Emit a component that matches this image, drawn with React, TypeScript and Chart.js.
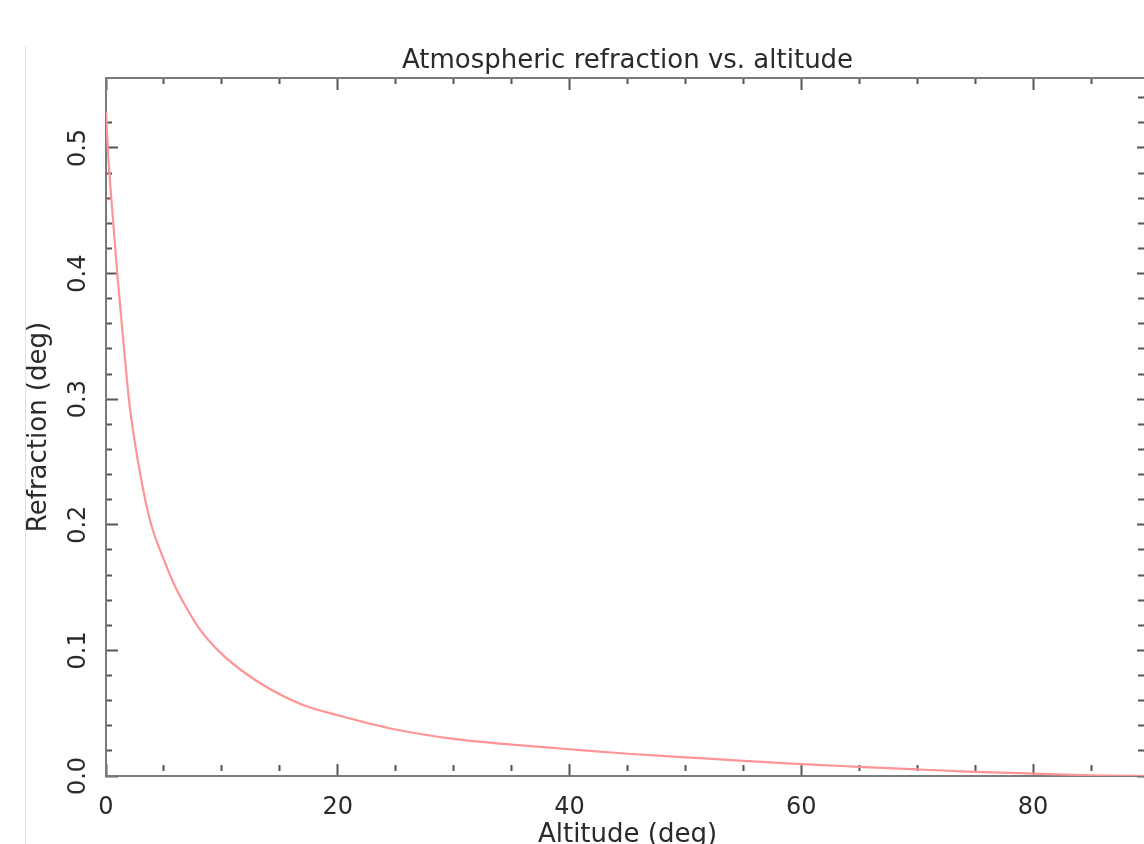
import React, { useEffect, useRef } from "react";
import { Chart, registerables } from "chart.js";

Chart.register(...registerables);

// Data
const altitude = [0, 0.15, 0.5, 1.0, 1.5, 2.0, 2.5, 3.0, 3.5, 4.0, 5.0, 6.0, 7.0, 8.0, 10, 12, 14, 17, 20, 25, 30, 35, 40, 45, 50, 55, 60, 65, 70, 75, 80, 85, 90];
const refraction = [0.529, 0.5, 0.455, 0.397, 0.346, 0.298, 0.265, 0.238, 0.215, 0.197, 0.172, 0.15, 0.133, 0.118, 0.097, 0.082, 0.07, 0.0565, 0.0484, 0.037, 0.0295, 0.025, 0.0213, 0.0177, 0.0149, 0.0121, 0.0095, 0.0073, 0.0052, 0.0033, 0.0019, 0.0006, 0.0];

const titleText = "Atmospheric refraction vs. altitude";
const xTitle = "Altitude (deg)";
const yTitle = "Refraction (deg)";
const xMin = 0;
const xMax = 90;
const xMinorStep = 5;
const xMajorStep = 20;
const yMin = 0;
const yMax = 0.5557;
const yMinorStep = 0.02;
const yMajorStep = 0.1;

const W = 1160;
const H = 870;
const AREA_LEFT = 106;
const AREA_TOP = 78;
const AREA_RIGHT = 1149;
const AREA_BOTTOM = 776;

const FONT = "'DejaVu Sans', Verdana, sans-serif";
const AXIS_COLOR = "#7a7a7a";
const TICK_COLOR = "#555555";
const TEXT_COLOR = "#2a2a2a";
const MINOR_DASH = [0, 6, 6, 0];

const isMultiple = (v: number, step: number) => Math.abs(v / step - Math.round(v / step)) < 1e-6;

const fixBox = (w: number | null, h: number | null) => (s: any) => {
  if (w !== null) s.width = w;
  if (h !== null) s.height = h;
  s.paddingLeft = 0;
  s.paddingRight = 0;
  s.paddingTop = 0;
  s.paddingBottom = 0;
};

export default function App() {
  const canvasRef = useRef<HTMLCanvasElement | null>(null);

  useEffect(() => {
    if (!canvasRef.current) return;
    const points = altitude.map((a, i) => ({ x: a, y: refraction[i] }));

    const xMajor = (c: any) => c.tick && isMultiple(c.tick.value, xMajorStep);
    const yMajor = (c: any) => c.tick && isMultiple(c.tick.value, yMajorStep);

    const chart = new Chart(canvasRef.current, {
      type: "line",
      data: {
        datasets: [
          {
            data: points,
            borderColor: "#ff9494",
            borderWidth: 2.2,
            pointRadius: 0,
            cubicInterpolationMode: "monotone",
            fill: false,
            xAxisID: "x",
            yAxisID: "y",
          },
        ],
      },
      options: {
        animation: false,
        responsive: false,
        devicePixelRatio: 1,
        layout: { padding: 0 },
        plugins: { legend: { display: false }, tooltip: { enabled: false }, title: { display: false } },
        scales: {
          x: {
            type: "linear",
            position: "bottom",
            min: xMin,
            max: xMax,
            afterFit: fixBox(null, H - AREA_BOTTOM),
            ticks: {
              stepSize: xMinorStep,
              autoSkip: false,
              minRotation: 0,
              maxRotation: 0,
              padding: 29,
              color: TEXT_COLOR,
              font: { family: FONT, size: 24 },
              callback: (v: any) => (isMultiple(Number(v), xMajorStep) ? String(Math.round(Number(v))) : ""),
            },
            grid: {
              drawOnChartArea: false,
              drawTicks: true,
              tickLength: -12,
              tickWidth: 2,
              tickColor: TICK_COLOR,
              tickBorderDash: (c: any) => (xMajor(c) ? [] : MINOR_DASH),
            },
            border: { display: true, color: AXIS_COLOR, width: 2 },
            title: { display: true, text: xTitle, color: TEXT_COLOR, font: { family: FONT, size: 26 }, padding: { top: 0, bottom: 19 } },
          },
          x2: {
            type: "linear",
            position: "top",
            min: xMin,
            max: xMax,
            afterFit: fixBox(null, AREA_TOP),
            ticks: { display: false, stepSize: xMinorStep, autoSkip: false },
            grid: {
              drawOnChartArea: false,
              drawTicks: true,
              tickLength: -12,
              tickWidth: 2,
              tickColor: TICK_COLOR,
              tickBorderDash: (c: any) => (xMajor(c) ? [] : MINOR_DASH),
            },
            border: { display: true, color: AXIS_COLOR, width: 2 },
            title: { display: true, text: titleText, color: TEXT_COLOR, font: { family: FONT, size: 26 }, padding: { top: 46, bottom: 0 } },
          },
          y: {
            type: "linear",
            position: "left",
            min: yMin,
            max: yMax,
            afterFit: fixBox(AREA_LEFT, null),
            afterBuildTicks: (s: any) => { s.ticks = s.ticks.filter((t: any) => isMultiple(t.value, yMinorStep)); },
            ticks: {
              stepSize: yMinorStep,
              autoSkip: false,
              minRotation: 90,
              maxRotation: 90,
              crossAlign: "center",
              padding: 20,
              color: TEXT_COLOR,
              font: { family: FONT, size: 24 },
              callback: (v: any) => (isMultiple(Number(v), yMajorStep) ? Number(v).toFixed(1) : ""),
            },
            grid: {
              drawOnChartArea: false,
              drawTicks: true,
              tickLength: -12,
              tickWidth: 2,
              tickColor: TICK_COLOR,
              tickBorderDash: (c: any) => (yMajor(c) ? [] : MINOR_DASH),
            },
            border: { display: true, color: AXIS_COLOR, width: 2 },
            title: { display: true, text: yTitle, color: TEXT_COLOR, font: { family: FONT, size: 26 }, padding: { top: 24, bottom: 0 } },
          },
          y2: {
            type: "linear",
            position: "right",
            min: yMin,
            max: yMax,
            afterFit: fixBox(W - AREA_RIGHT, null),
            afterBuildTicks: (s: any) => { s.ticks = s.ticks.filter((t: any) => isMultiple(t.value, yMinorStep)); },
            ticks: { display: false, stepSize: yMinorStep, autoSkip: false },
            grid: {
              drawOnChartArea: false,
              drawTicks: true,
              tickLength: -12,
              tickWidth: 2,
              tickColor: TICK_COLOR,
              tickBorderDash: (c: any) => (yMajor(c) ? [] : MINOR_DASH),
            },
            border: { display: true, color: AXIS_COLOR, width: 2 },
          },
        },
      } as any,
    });
    return () => chart.destroy();
  }, []);

  return (
    <div style={{ position: "absolute", left: 0, top: 0, width: 1144, height: 844, overflow: "hidden", background: "#ffffff" }}>
      <canvas ref={canvasRef} width={W} height={H} style={{ position: "absolute", left: 0, top: 0, width: W, height: H }} />
      <div style={{ position: "absolute", left: 25, top: 46, width: 1, height: 800, background: "#cfe3f1" }} />
    </div>
  );
}
